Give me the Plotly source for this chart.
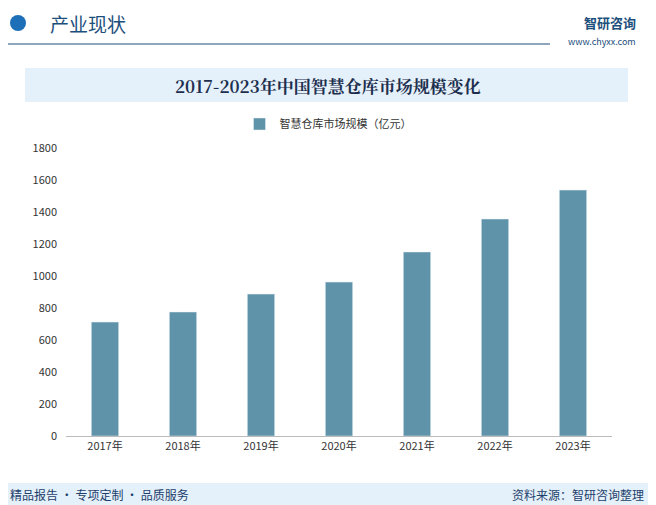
import plotly.graph_objects as go

years = ["2017年", "2018年", "2019年", "2020年", "2021年", "2022年", "2023年"]
market_size = [712, 775, 887, 962, 1150, 1356, 1537]
series_name = "智慧仓库市场规模（亿元）"

# the page body has an 8px margin, so the figure is shrunk and placed in screen pixels
OFF = 8
W, H = 656 - OFF, 505 - OFF
ML, MR, MT, MB = 66 - OFF, 44, 148 - OFF, 69
PW, PH = W - ML - MR, H - MT - MB


def px(x):
    # screen pixel x -> paper x
    return (x - OFF - ML) / PW


def py(y):
    # screen pixel y -> paper y
    return (H - MB - (y - OFF)) / PH


fig = go.Figure()
fig.add_trace(go.Bar(x=years, y=market_size, name=series_name,
                     marker_color="#5f93a9", width=0.35))

shapes = [
    dict(type="line", x0=px(0), x1=px(550), y0=py(44), y1=py(44),
         line=dict(color="#1d4f7c", width=1)),
    dict(type="rect", x0=px(25), x1=px(628), y0=py(102), y1=py(68),
         fillcolor="#e5f1fa", line_width=0, layer="below"),
    dict(type="rect", x0=px(0), x1=px(656), y0=py(505), y1=py(483),
         fillcolor="#e5f1fa", line_width=0, layer="below"),
    dict(type="circle", x0=px(10), x1=px(26), y0=py(31), y1=py(15),
         fillcolor="#1d6fb8", line_width=0),
]
for s in shapes:
    s.update(xref="paper", yref="paper")

annotations = [
    dict(text="产业现状", x=px(48), y=py(23), xanchor="left",
         font=dict(size=19, color="#1d4f7c")),
    dict(text="<b>智研咨询</b>", x=px(638), y=py(22), xanchor="right",
         font=dict(size=13, color="#1d4f7c")),
    dict(text="www.chyxx.com", x=px(638), y=py(41), xanchor="right",
         font=dict(size=9, color="#1d4f7c")),
    dict(text="<b>2017-2023年中国智慧仓库市场规模变化</b>", x=px(328), y=py(85),
         xanchor="center",
         font=dict(size=17, color="#1d2f4f", family="Noto Serif CJK SC, Noto Sans CJK SC")),
    dict(text="精品报告 · 专项定制 · 品质服务", x=px(8), y=py(494), xanchor="left",
         font=dict(size=12, color="#1d3f6c")),
    dict(text="资料来源：智研咨询整理", x=px(646), y=py(494), xanchor="right",
         font=dict(size=12, color="#1d3f6c")),
]
for a in annotations:
    a.update(xref="paper", yref="paper", showarrow=False, yanchor="middle")

fig.update_layout(
    width=W, height=H,
    margin=dict(l=ML, r=MR, t=MT, b=MB),
    paper_bgcolor="white", plot_bgcolor="white",
    font=dict(family="Noto Sans CJK SC", size=11, color="#333"),
    showlegend=True,
    legend=dict(orientation="h", x=px(328), xanchor="center", y=py(124), yanchor="middle",
                font=dict(size=11, color="#333")),
    yaxis=dict(range=[0, 1800], dtick=200, showgrid=False, zeroline=False,
               showline=False, ticks="", tickfont=dict(size=11), ticklabelstandoff=8),
    xaxis=dict(showline=True, linecolor="#bbbbbb", ticks="", tickfont=dict(size=11)),
    shapes=shapes, annotations=annotations,
)

fig.write_html("out.html")
